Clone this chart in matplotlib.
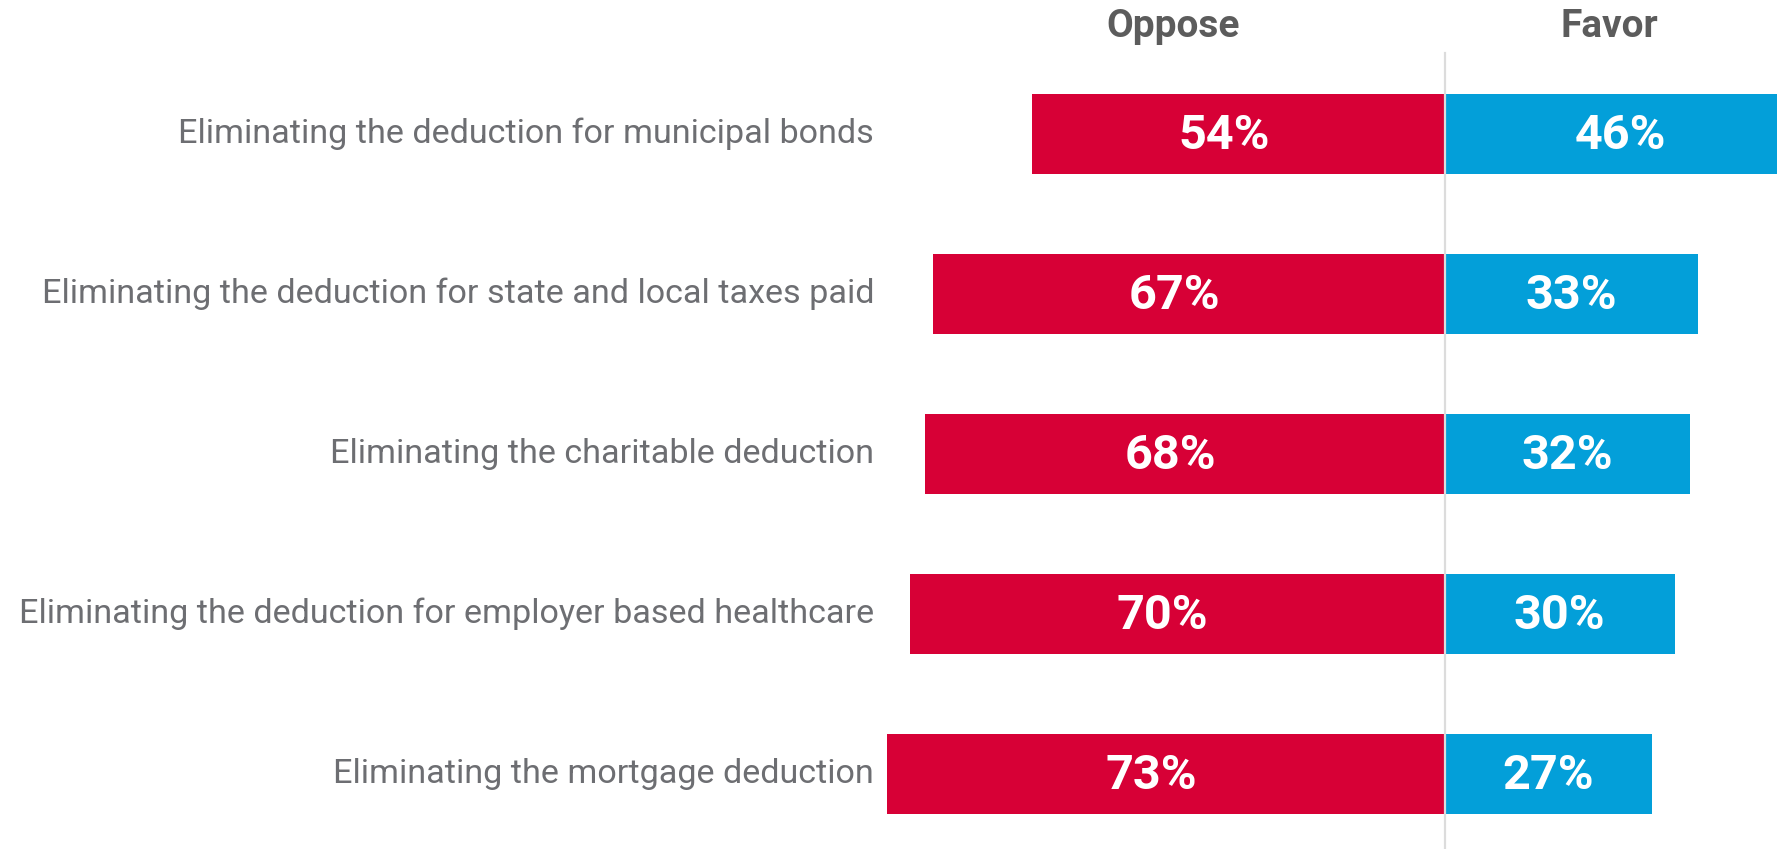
import matplotlib
matplotlib.use('Agg')
import matplotlib.pyplot as plt
import numpy as np

plt.rcParams['font.family'] = ['Roboto', 'DejaVu Sans']

categories = ['Eliminating the deduction for municipal bonds',
              'Eliminating the deduction for state and local taxes paid',
              'Eliminating the charitable deduction',
              'Eliminating the deduction for employer based healthcare',
              'Eliminating the mortgage deduction']
oppose = [54, 67, 68, 70, 73]
favor = [46, 33, 32, 30, 27]

red = '#D70036'
blue = '#039FD9'

fig = plt.figure(figsize=(17.77, 8.49), dpi=100)
ax = fig.add_axes([0, 0, 1, 1])

y = np.arange(len(categories))
# px per % = 7.63, centre line at x=1445 px
ax.set_xlim(-1445 / 7.63, (1777 - 1445) / 7.63)
ax.set_ylim(4 + 75 / 160, -134 / 160)
ax.axis('off')

ax.barh(y, [-v for v in oppose], height=0.5, color=red, left=-0.13)
ax.barh(y, favor, height=0.5, color=blue, left=0.13)
ax.axvline(0, ymin=0, ymax=1 - 53 / 849, color='#dcdcdc', lw=1.6, zorder=3)

for i in range(len(categories)):
    ax.text(-(oppose[i] / 2) - 2, y[i] + 0.015, '%d%%' % oppose[i], color='white',
            fontsize=35, fontweight='bold', ha='center', va='center')
    ax.text(favor[i] / 2, y[i] + 0.015, '%d%%' % favor[i], color='white',
            fontsize=35, fontweight='bold', ha='center', va='center')
    ax.text(-(1445 - 874) / 7.63, y[i], categories[i], color='#6d6e72',
            fontsize=24.6, ha='right', va='center')

ax.text(-35.6, -0.606, 'Oppose', color='#5c5c5c', fontsize=28, fontweight='bold',
        ha='center', va='baseline')
ax.text(21.5, -0.606, 'Favor', color='#5c5c5c', fontsize=28, fontweight='bold',
        ha='center', va='baseline')

fig.savefig('out.png', dpi=100)
